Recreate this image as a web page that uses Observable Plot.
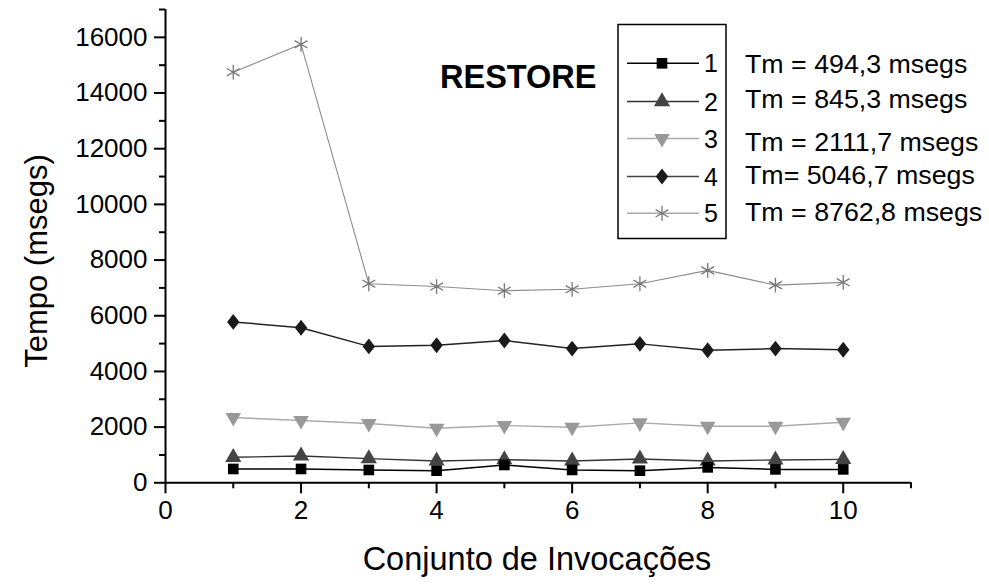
<!DOCTYPE html>
<html><head><meta charset="utf-8">
<script src="https://cdn.jsdelivr.net/npm/d3@7"></script>
<script src="https://cdn.jsdelivr.net/npm/@observablehq/plot@0.6"></script>
<style>
body{margin:0;background:#fff;font-family:Arial,"Liberation Sans",sans-serif;}
#wrap{position:relative;width:989px;height:588px;overflow:hidden;}
#wrap svg{position:absolute;left:0;top:0;}
</style></head><body><div id="wrap"></div>
<script>
// ---- data ----
const invocacoes = [1,2,3,4,5,6,7,8,9,10];
const serie1 = [497,497,461,435,640,461,435,554,482,482];
const serie2 = [916,965,868,785,832,785,857,785,821,841];
const serie3 = [2345,2237,2129,1960,2057,1997,2153,2033,2033,2173];
const serie4 = [5780,5570,4900,4940,5110,4820,4990,4760,4820,4777];
const serie5 = [14750,15750,7150,7050,6900,6950,7150,7630,7100,7200];
const seriesNames = ["1","2","3","4","5"];
const tmLabels = ["Tm = 494,3 msegs","Tm = 845,3 msegs","Tm = 2111,7 msegs","Tm= 5046,7 msegs","Tm = 8762,8 msegs"];
const yTicks = [0,2000,4000,6000,8000,10000,12000,14000,16000];
const yMinorTicks = [1000,3000,5000,7000,9000,11000,13000,15000,17000];
const xTicks = [0,2,4,6,8,10];
const xMinorTicks = [1,3,5,7,9,11];
const chartTitle = "RESTORE";
const yTitle = "Tempo (msegs)";
const xTitle = "Conjunto de Invocações";

// ---- symbols ----
const symbolDown = {draw(ctx, size){ const y = Math.sqrt(size/(3*Math.sqrt(3))); ctx.moveTo(0, 2*y); ctx.lineTo(-Math.sqrt(3)*y, -y); ctx.lineTo(Math.sqrt(3)*y, -y); ctx.closePath(); }};
const symbolTallDiamond = {draw(ctx, size){ const h = Math.sqrt(size)*0.9, w = h*0.78; ctx.moveTo(0,-h); ctx.lineTo(w,0); ctx.lineTo(0,h); ctx.lineTo(-w,0); ctx.closePath(); }};

const styles = [
  {line:"#000000", mark:"#000000", symbol:d3.symbolSquare, r:6.0, lw:1.5, stroke:false},
  {line:"#333333", mark:"#444444", symbol:d3.symbolTriangle, r:6.0, lw:1.4, stroke:false},
  {line:"#aaaaaa", mark:"#999999", symbol:symbolDown, r:5.8, lw:1.4, stroke:false},
  {line:"#222222", mark:"#1a1a1a", symbol:symbolTallDiamond, r:5.0, lw:1.5, stroke:false},
  {line:"#8c8c8c", mark:"#777777", symbol:d3.symbolAsterisk, r:7.0, lw:1.1, stroke:true}
];

const allSeries = [serie1, serie2, serie3, serie4, serie5];
const rows = [];
allSeries.forEach((vals, i) => invocacoes.forEach((x, j) => rows.push({serie: seriesNames[i], x, y: vals[j]})));

const seriesMarks = [];
seriesNames.forEach((name, i) => {
  const s = styles[i];
  const data = rows.filter(d => d.serie === name);
  seriesMarks.push(Plot.line(data, {x: "x", y: "y", stroke: s.line, strokeWidth: s.lw}));
});
[4,3,2,1,0].forEach(i => {
  const s = styles[i];
  const data = rows.filter(d => d.serie === seriesNames[i]);
  seriesMarks.push(s.stroke
    ? Plot.dot(data, {x: "x", y: "y", symbol: s.symbol, r: s.r, stroke: s.mark, strokeWidth: 1.3, fill: "none"})
    : Plot.dot(data, {x: "x", y: "y", symbol: s.symbol, r: s.r, fill: s.mark, stroke: "none"}));
});

const fontFam = "Arial, 'Liberation Sans', sans-serif";
const chart = Plot.plot({
  width: 989, height: 588,
  marginLeft: 165, marginRight: 78.5, marginTop: 9, marginBottom: 105.7,
  x: {domain: [0, 11], label: null},
  y: {domain: [0, 17000], label: null},
  style: {fontFamily: fontFam, background: "white", color: "#000", overflow: "visible"},
  marks: [
    Plot.axisY(yTicks, {tickSize: 11, tickPadding: 7, fontSize: 26, strokeWidth: 2, tickFormat: d => String(d), label: null}),
    Plot.axisY(yMinorTicks, {tickSize: 6, strokeWidth: 2, tickFormat: () => "", label: null}),
    Plot.axisX(xTicks, {tickSize: 11, tickPadding: 7, fontSize: 26, strokeWidth: 2, tickFormat: d => String(d), label: null}),
    Plot.axisX(xMinorTicks, {tickSize: 6, strokeWidth: 2, tickFormat: () => "", label: null}),
    Plot.ruleX([0], {y1: 0, y2: 17000, strokeWidth: 2}),
    Plot.ruleY([0], {x1: 0, x2: 11, strokeWidth: 2}),
    ...seriesMarks
  ]
});
document.getElementById("wrap").appendChild(chart);

// ---- titles + legend overlay ----
const L = {boxX: 618, boxY: 24.5, boxW: 108, boxH: 214, lineX1: 627, lineX2: 699, markX: 662, numX: 704,
           rowY: [63.3, 101.5, 138.5, 176.5, 213.3], tmX: 745, tmY: [63.3, 98.5, 141.5, 175, 211.5],
           titleX: 440, titleY: 76, yTitleX: 36, yTitleY: 261, xTitleX: 537, xTitleY: 558};
const legendLineColors = ["#000000", "#333333", "#aaaaaa", "#444444", "#aaaaaa"];
const ov = d3.select("#wrap").append("svg").attr("width", 989).attr("height", 588)
  .style("font-family", fontFam).style("pointer-events", "none");
ov.append("text").attr("transform", `translate(${L.yTitleX},${L.yTitleY}) rotate(-90)`)
  .attr("text-anchor", "middle").attr("dy", "0.36em").attr("font-size", 31).text(yTitle);
ov.append("text").attr("x", L.xTitleX).attr("y", L.xTitleY).attr("text-anchor", "middle")
  .attr("dy", "0.36em").attr("font-size", 32.5).text(xTitle);
ov.append("text").attr("x", L.titleX).attr("y", L.titleY).attr("dy", "0.36em")
  .attr("font-size", 32.5).attr("font-weight", "bold").text(chartTitle);
ov.append("rect").attr("x", L.boxX).attr("y", L.boxY).attr("width", L.boxW).attr("height", L.boxH)
  .attr("fill", "white").attr("stroke", "#000").attr("stroke-width", 1.5);
seriesNames.forEach((name, i) => {
  const s = styles[i], y = L.rowY[i];
  ov.append("line").attr("x1", L.lineX1).attr("x2", L.lineX2).attr("y1", y).attr("y2", y)
    .attr("stroke", legendLineColors[i]).attr("stroke-width", 1.4);
  const path = d3.symbol().type(s.symbol).size(Math.PI * s.r * s.r)();
  ov.append("path").attr("d", path).attr("transform", `translate(${L.markX},${y})`)
    .attr("fill", s.stroke ? "none" : s.mark).attr("stroke", s.stroke ? s.mark : "none").attr("stroke-width", 1.3);
  ov.append("text").attr("x", L.numX).attr("y", y).attr("dy", "0.36em").attr("font-size", 25).text(name);
  ov.append("text").attr("transform", `translate(${L.tmX},${L.tmY[i]}) scale(1.03,1)`)
    .attr("dy", "0.36em").attr("font-size", 26).text(tmLabels[i]);
});
</script></body></html>
